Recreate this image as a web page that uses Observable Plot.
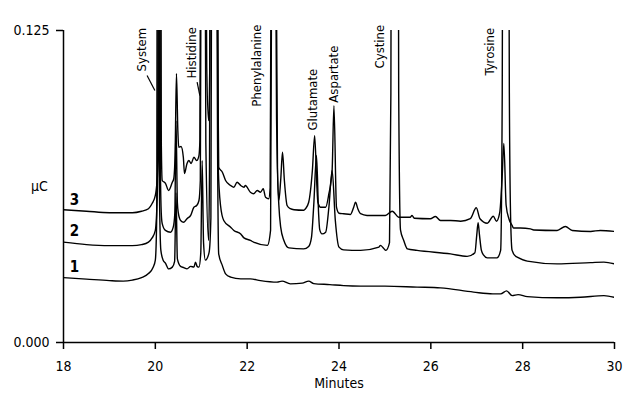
<!DOCTYPE html>
<html><head><meta charset="utf-8">
<script src="https://cdn.jsdelivr.net/npm/d3@7"></script>
<script src="https://cdn.jsdelivr.net/npm/@observablehq/plot@0.6"></script>
<style>
html,body{margin:0;padding:0;background:#fff;}
#chart svg{display:block;}
</style></head><body><div id="chart"></div>
<script>
// Trace 1 (bottom)
const trace1Minutes = [18.00,18.50,19.00,19.30,19.50,19.70,19.85,19.95,20.00,20.03,20.05,20.07,20.09,20.12,20.17,20.22,20.29,20.37,20.42,20.45,20.48,20.55,20.62,20.69,20.77,20.84,20.875,20.91,20.95,20.99,21.02,21.05,21.09,21.17,21.21,21.23,21.28,21.33,21.355,21.38,21.46,21.53,21.64,21.86,22.07,22.29,22.65,22.76,22.94,23.20,23.34,23.45,23.80,24.10,24.47,25.00,25.70,26.21,26.93,27.35,27.52,27.65,27.77,27.90,28.10,28.75,29.26,29.77,30.00];
const trace1Values = [0.0260,0.0254,0.0248,0.0246,0.0250,0.0260,0.0276,0.0300,0.0330,0.0500,0.3000,0.3000,0.0600,0.0370,0.0330,0.0318,0.0295,0.0302,0.0325,0.0600,0.0335,0.0305,0.0300,0.0295,0.0305,0.0302,0.0322,0.0305,0.0302,0.0360,0.0729,0.0400,0.0330,0.0360,0.0500,0.2000,0.5000,0.2000,0.0800,0.0355,0.0308,0.0275,0.0262,0.0255,0.0255,0.0248,0.0242,0.0246,0.0235,0.0238,0.0246,0.0236,0.0232,0.0228,0.0226,0.0226,0.0222,0.0219,0.0202,0.0195,0.0195,0.0207,0.0188,0.0192,0.0184,0.0179,0.0181,0.0188,0.0181];

// Trace 2 (middle)
const trace2Minutes = [18.00,18.50,19.00,19.50,19.70,19.85,19.93,20.00,20.05,20.07,20.09,20.11,20.13,20.15,20.22,20.33,20.39,20.425,20.45,20.48,20.50,20.55,20.62,20.69,20.77,20.84,20.90,20.95,20.98,21.00,21.04,21.08,21.10,21.16,21.18,21.20,21.28,21.34,21.37,21.42,21.49,21.64,21.71,21.86,21.93,22.07,22.14,22.44,22.51,22.54,22.58,22.62,22.66,22.69,22.73,22.80,22.91,23.23,23.34,23.40,23.45,23.51,23.555,23.58,23.63,23.71,23.78,23.85,23.92,24.00,24.10,24.47,24.87,24.90,24.97,25.02,25.10,25.13,25.15,25.22,25.28,25.30,25.34,25.41,25.49,25.70,26.43,26.79,26.96,27.00,27.03,27.06,27.10,27.15,27.23,27.44,27.52,27.555,27.58,27.63,27.68,27.71,27.74,27.77,27.85,27.88,28.10,28.75,29.48,29.77,30.00];
const trace2Values = [0.0402,0.0392,0.0388,0.0388,0.0392,0.0402,0.0419,0.0449,0.0650,0.3000,0.3000,0.0700,0.0516,0.0476,0.0449,0.0442,0.0462,0.0520,0.0889,0.0560,0.0520,0.0489,0.0482,0.0496,0.0509,0.0542,0.0549,0.0569,0.0650,0.2000,0.5000,0.2000,0.0800,0.0409,0.0700,0.2000,0.5000,0.2000,0.0700,0.0549,0.0489,0.0462,0.0449,0.0435,0.0419,0.0409,0.0402,0.0389,0.0450,0.2000,0.4000,0.2000,0.0700,0.0550,0.0462,0.0409,0.0379,0.0375,0.0385,0.0420,0.0550,0.0749,0.0520,0.0452,0.0435,0.0442,0.0542,0.0689,0.0489,0.0382,0.0371,0.0369,0.0382,0.0389,0.0378,0.0369,0.0400,0.1000,0.3000,0.5000,0.3000,0.1000,0.0450,0.0409,0.0375,0.0369,0.0355,0.0345,0.0360,0.0430,0.0480,0.0430,0.0370,0.0350,0.0339,0.0339,0.0369,0.1000,0.3000,0.5000,0.3000,0.1000,0.0480,0.0369,0.0345,0.0342,0.0326,0.0315,0.0320,0.0322,0.0315];

// Trace 3 (top)
const trace3Minutes = [18.00,18.50,19.00,19.50,19.70,19.85,19.93,20.00,20.07,20.09,20.11,20.13,20.15,20.22,20.29,20.37,20.40,20.43,20.46,20.49,20.51,20.56,20.61,20.635,20.69,20.73,20.78,20.84,20.90,20.95,20.97,20.99,21.04,21.09,21.12,21.16,21.185,21.21,21.28,21.35,21.37,21.38,21.46,21.53,21.64,21.71,21.78,21.86,21.93,21.96,22.07,22.14,22.22,22.29,22.35,22.40,22.47,22.50,22.53,22.57,22.61,22.64,22.69,22.73,22.77,22.81,22.87,22.94,23.02,23.23,23.27,23.34,23.42,23.47,23.52,23.54,23.60,23.71,23.78,23.85,23.89,23.945,24.00,24.10,24.25,24.32,24.36,24.41,24.47,24.61,24.87,25.01,25.16,25.30,25.55,25.59,25.64,25.99,26.10,26.21,26.43,26.65,26.86,26.99,27.07,27.23,27.36,27.43,27.50,27.55,27.59,27.64,27.70,27.77,27.80,27.95,28.17,28.24,28.75,28.93,29.08,29.48,29.69,30.00];
const trace3Values = [0.0532,0.0526,0.0520,0.0520,0.0526,0.0536,0.0557,0.0589,0.0750,0.3000,0.3000,0.0800,0.0649,0.0638,0.0609,0.0642,0.0655,0.0750,0.1078,0.0850,0.0782,0.0785,0.0742,0.0677,0.0717,0.0729,0.0717,0.0742,0.0729,0.0749,0.0809,0.2000,0.5000,0.2000,0.1100,0.0889,0.1100,0.2000,0.5000,0.2000,0.0900,0.0702,0.0682,0.0649,0.0629,0.0622,0.0642,0.0629,0.0622,0.0629,0.0602,0.0596,0.0609,0.0602,0.0616,0.0582,0.0576,0.0620,0.2000,0.4000,0.2000,0.0900,0.0569,0.0650,0.0762,0.0650,0.0549,0.0536,0.0532,0.0530,0.0536,0.0562,0.0689,0.0829,0.0620,0.0562,0.0542,0.0542,0.0596,0.0689,0.0949,0.0542,0.0518,0.0516,0.0513,0.0542,0.0562,0.0536,0.0516,0.0509,0.0509,0.0509,0.0526,0.0502,0.0502,0.0509,0.0498,0.0496,0.0505,0.0489,0.0489,0.0486,0.0496,0.0540,0.0496,0.0478,0.0506,0.0486,0.0520,0.0650,0.0797,0.0550,0.0496,0.0469,0.0459,0.0459,0.0455,0.0451,0.0449,0.0465,0.0449,0.0445,0.0449,0.0445];

// Axis ticks
const xTicks = [18, 20, 22, 24, 26, 28, 30];
const yTicks = [0, 0.125];

// Peak annotations
const peakNames = ["System", "Histidine", "Phenylalanine", "Glutamate", "Aspartate", "Cystine", "Tyrosine"];
const peakLabelMinutes = [19.70, 20.79, 22.20, 23.42, 23.88, 24.90, 27.28];
const peakLabelValues = [0.1086, 0.1058, 0.0945, 0.0849, 0.0961, 0.1098, 0.1070];

// Leader lines (System, Histidine)
const leaderStartMinutes = [19.82, 20.91];
const leaderStartValues = [0.1070, 0.1043];
const leaderEndMinutes = [19.99, 20.97];
const leaderEndValues = [0.1010, 0.0989];

// Trace number labels
const traceNames = ["1", "2", "3"];
const traceLabelMinutes = [18.24, 18.24, 18.24];
const traceLabelValues = [0.0300, 0.0445, 0.0569];

const traces = [
  {name: "1", m: trace1Minutes, v: trace1Values},
  {name: "2", m: trace2Minutes, v: trace2Values},
  {name: "3", m: trace3Minutes, v: trace3Values}
];
const lineData = traces.flatMap(t => t.m.map((m, i) => ({trace: t.name, minute: m, value: t.v[i]})));
const peakData = peakNames.map((n, i) => ({name: n, minute: peakLabelMinutes[i], value: peakLabelValues[i]}));
const leaderData = leaderStartMinutes.map((m, i) => ({x1: m, y1: leaderStartValues[i], x2: leaderEndMinutes[i], y2: leaderEndValues[i]}));
const traceLabelData = traceNames.map((n, i) => ({name: n, minute: traceLabelMinutes[i], value: traceLabelValues[i]}));

const FONT = '"Liberation Sans Narrow","Arial Narrow","DejaVu Sans Condensed",sans-serif';

const chart = Plot.plot({
  width: 640,
  height: 404,
  marginLeft: 63,
  marginRight: 26,
  marginTop: 30,
  marginBottom: 62,
  x: {domain: [18, 30]},
  y: {domain: [0, 0.125]},
  style: {fontFamily: FONT, fontSize: "13px", color: "#000", background: "#fff"},
  marks: [
    Plot.axisX({ticks: xTicks, tickSize: 7, tickPadding: 12, strokeWidth: 1.5, tickFormat: d => String(d), label: null, fontSize: 14}),
    Plot.axisY({ticks: yTicks, tickSize: 7, tickPadding: 7, strokeWidth: 1.5, tickFormat: d3.format(".3f"), label: null, fontSize: 14}),
    Plot.ruleY([0], {strokeWidth: 1.5}),
    Plot.ruleX([18], {strokeWidth: 1.5}),
    Plot.line(lineData, {x: "minute", y: "value", z: "trace", stroke: "#000", strokeWidth: 1.4, curve: "monotone-x", clip: true, strokeLinejoin: "round"}),
    Plot.text(peakData, {x: "minute", y: "value", text: "name", rotate: -90, textAnchor: "start", lineAnchor: "middle", fontSize: 13}),
    Plot.link(leaderData, {x1: "x1", y1: "y1", x2: "x2", y2: "y2", stroke: "#000", strokeWidth: 1.2}),
    Plot.text(traceLabelData, {x: "minute", y: "value", text: "name", fontWeight: "bold", fontSize: 15}),
    Plot.text(["µC"], {frameAnchor: "left", textAnchor: "middle", dx: -24, fontSize: 14}),
    Plot.text(["Minutes"], {frameAnchor: "bottom", dy: 45, fontSize: 14})
  ]
});
document.getElementById("chart").appendChild(chart);
</script>
</body></html>
